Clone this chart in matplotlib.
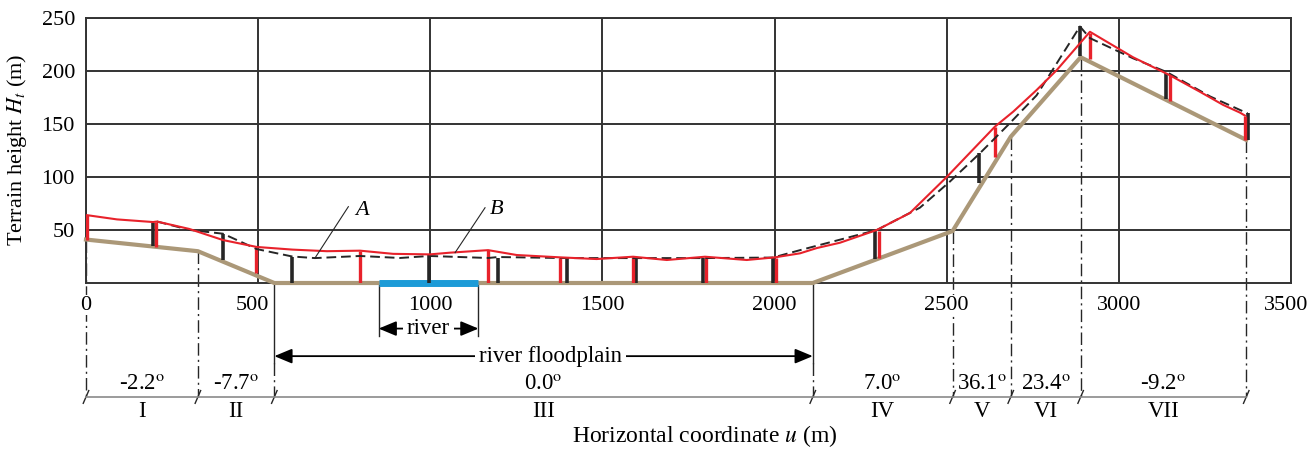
import matplotlib
matplotlib.use('Agg')
import matplotlib.pyplot as plt
from matplotlib.transforms import offset_copy

plt.rcParams['font.family'] = ['Liberation Serif', 'DejaVu Serif']
plt.rcParams['mathtext.fontset'] = 'stix'

# ground profile (section boundaries), u in m, H in m
ground_u = [0, 325, 547, 2111, 2517, 2686, 2889, 3370]
ground_h = [41, 30, 0, 0, 49, 138, 213, 135]

# curve B (red, solid)
b_u = [3, 90, 195, 206, 300, 398, 496, 600, 700, 796, 892, 999, 1057, 1168, 1251,
       1377, 1483, 1589, 1687, 1798, 1919, 2001, 2074, 2123, 2190, 2297, 2393, 2500,
       2640, 2693, 2761, 2820, 2916, 3041, 3148, 3235, 3303, 3352, 3366]
b_h = [64, 60, 57.5, 58, 51, 40.5, 34, 31.5, 30, 30.5, 27.5, 27, 28.6, 31, 26.4,
       24.2, 22.6, 24.8, 21.7, 24.8, 21.7, 24.2, 28, 33, 38, 50, 66, 100,
       147.5, 161.6, 182, 201, 237, 213, 196, 180.5, 168, 160.7, 158]

# curve A (black, dashed)
a_u = [206, 302, 398, 496, 599, 665, 796, 912, 997, 1168, 1197, 1396, 1597,
       1795, 1995, 2074, 2297, 2422, 2509, 2597, 2678, 2761, 2887, 2916, 3041,
       3139, 3265, 3374]
a_h = [58, 50, 46.5, 32, 25, 23.5, 25.5, 23.6, 25.5, 23.6, 24.5, 23.5, 23.5,
       23.5, 24, 31, 50, 71, 95.6, 122.6, 149, 177, 242, 231, 212,
       199, 176, 160]

# vertical bars
red_u = [3, 203, 495, 796, 1168, 1377, 1590, 1801, 2005, 2304, 2640, 2916, 3148, 3366]
red_top = [64, 58, 34, 30.5, 31, 24, 25, 25, 24, 49.5, 147.5, 236, 196, 157.5]
red_bot = [41, 34, 9, 0, 0, 0, 0, 0, 0, 24, 119, 211, 172, 135]
blk_u = [195, 398, 597, 997, 1197, 1396, 1597, 1793, 1995, 2292, 2594, 2887, 3137, 3374]
blk_top = [57, 46.5, 25, 26, 24, 24, 24, 24, 24, 49.5, 122.6, 242, 198, 160]
blk_bot = [35, 21.5, 0, 0, 0, 0, 0, 0, 0, 23, 94.6, 214, 174, 135]

river = [850, 1140]
floodplain = [547, 2111]
slopes = ['-2.2', '-7.7', '0.0', '7.0', '36.1', '23.4', '-9.2']
sections = ['I', 'II', 'III', 'IV', 'V', 'VI', 'VII']
xticks = [0, 500, 1000, 1500, 2000, 2500, 3000, 3500]
yticks = [50, 100, 150, 200, 250]

RED = '#e8222b'
TAN = '#ab9878'
BLUE = '#1d9bd7'
DK = '#262626'
FS = 16

fig = plt.figure(figsize=(13.09, 4.5), dpi=100)
ax = fig.add_axes([86/1309, 1-283/450, 1205/1309, 265/450])
ax.set_xlim(0, 3500)
ax.set_ylim(0, 250)
ax.set_xticks(xticks)
ax.set_yticks(yticks)
ax.grid(True, color='#333333', lw=1.4)
ax.set_axisbelow(True)
for s in ax.spines.values():
    s.set_color('#333333')
    s.set_linewidth(1.4)
ax.tick_params(length=0, labelsize=FS, pad=8)
ax.tick_params(axis='x', labelbottom=False)

# x tick labels as texts, so they can sit on top of the dash-dot lines
nudge = {500: -6, 3500: -5}
for t in xticks:
    tr = offset_copy(ax.get_xaxis_transform(), fig=fig, x=nudge.get(t, 0), y=-22, units='dots')
    ax.text(t, 0, str(t), transform=tr, fontsize=FS, ha='center', va='center', zorder=8,
            bbox=dict(facecolor='white', edgecolor='none', pad=0.5), clip_on=False)

# ground and river
ax.plot(ground_u, ground_h, color=TAN, lw=3, zorder=3, clip_on=False)
ax.plot(river, [0, 0], color=BLUE, lw=5, solid_capstyle='butt', zorder=3.5, clip_on=False)

# bars
ax.vlines(blk_u, blk_bot, blk_top, colors=DK, lw=2.6, zorder=4)
ax.vlines(red_u, red_bot, red_top, colors=RED, lw=2.4, zorder=4)

# curves
ax.plot(a_u, a_h, color=DK, lw=1.4, ls=(0, (5, 2.5)), zorder=5, clip_on=False)
ax.plot(b_u, b_h, color=RED, lw=1.5, zorder=6, clip_on=False)

# curve labels
ax.text(801, 68, 'A', fontsize=FS, style='italic', ha='center', va='center')
ax.plot([762, 665], [72, 23.5], color=DK, lw=0.8, zorder=6)
ax.text(1193, 69, 'B', fontsize=FS, style='italic', ha='center', va='center')
ax.plot([1159, 1072], [71, 28.6], color=DK, lw=0.8, zorder=6)

# section scheme below the axis
y_river, y_flood, y_slope, y_base, y_sec = -43, -69, -96, -107.5, -121
dashdot = (0, (9, 3, 1.5, 3))
for u, h in zip(ground_u, ground_h):
    if u in floodplain:
        ax.plot([u, u], [h, -75], color=DK, lw=1, zorder=1, clip_on=False)
        ax.plot([u, u], [-75, y_base], color=DK, lw=1, ls=dashdot, zorder=1, clip_on=False)
    else:
        ax.plot([u, u], [h, y_base], color=DK, lw=1, ls=dashdot, zorder=1, clip_on=False)
    ax.plot([u - 8, u + 8], [y_base - 6, y_base + 6], color=DK, lw=1, clip_on=False)

ax.plot([ground_u[0], ground_u[-1]], [y_base, y_base], color='#8a8a8a', lw=1.2, clip_on=False)

for u in river:
    ax.plot([u, u], [0, -50], color=DK, lw=1, clip_on=False)

arrow = dict(arrowstyle='<|-|>, head_length=0.6, head_width=0.25', color='black',
             lw=1.3, mutation_scale=18, shrinkA=0, shrinkB=0)
ax.annotate('', xy=(river[0], y_river), xytext=(river[1], y_river),
            arrowprops=arrow, annotation_clip=False)
ax.text(sum(river) / 2, y_river, 'river', fontsize=16.5, ha='center', va='center', zorder=7,
        bbox=dict(facecolor='white', edgecolor='none', pad=3))
ax.annotate('', xy=(floodplain[0], y_flood), xytext=(floodplain[1], y_flood),
            arrowprops=arrow, annotation_clip=False)
ax.text(1350, y_flood, 'river floodplain', fontsize=16.5, ha='center', va='center', zorder=7,
        bbox=dict(facecolor='white', edgecolor='none', pad=3))

for i in range(len(slopes)):
    mid = (ground_u[i] + ground_u[i + 1]) / 2
    ax.text(mid, y_slope, slopes[i] + r'$^{\mathrm{o}}$', fontsize=16.5, ha='center', va='center')
    ax.text(mid, y_sec, sections[i], fontsize=16.5, ha='center', va='center')

fig.text(17/1309, 1 - 150/450, r'Terrain height $H_t$ (m)', fontsize=FS,
         rotation=90, ha='center', va='center')
fig.text(705/1309, 1 - 436/450, r'Horizontal coordinate $u$ (m)', fontsize=17,
         ha='center', va='center')

fig.savefig('out.png', dpi=100)
